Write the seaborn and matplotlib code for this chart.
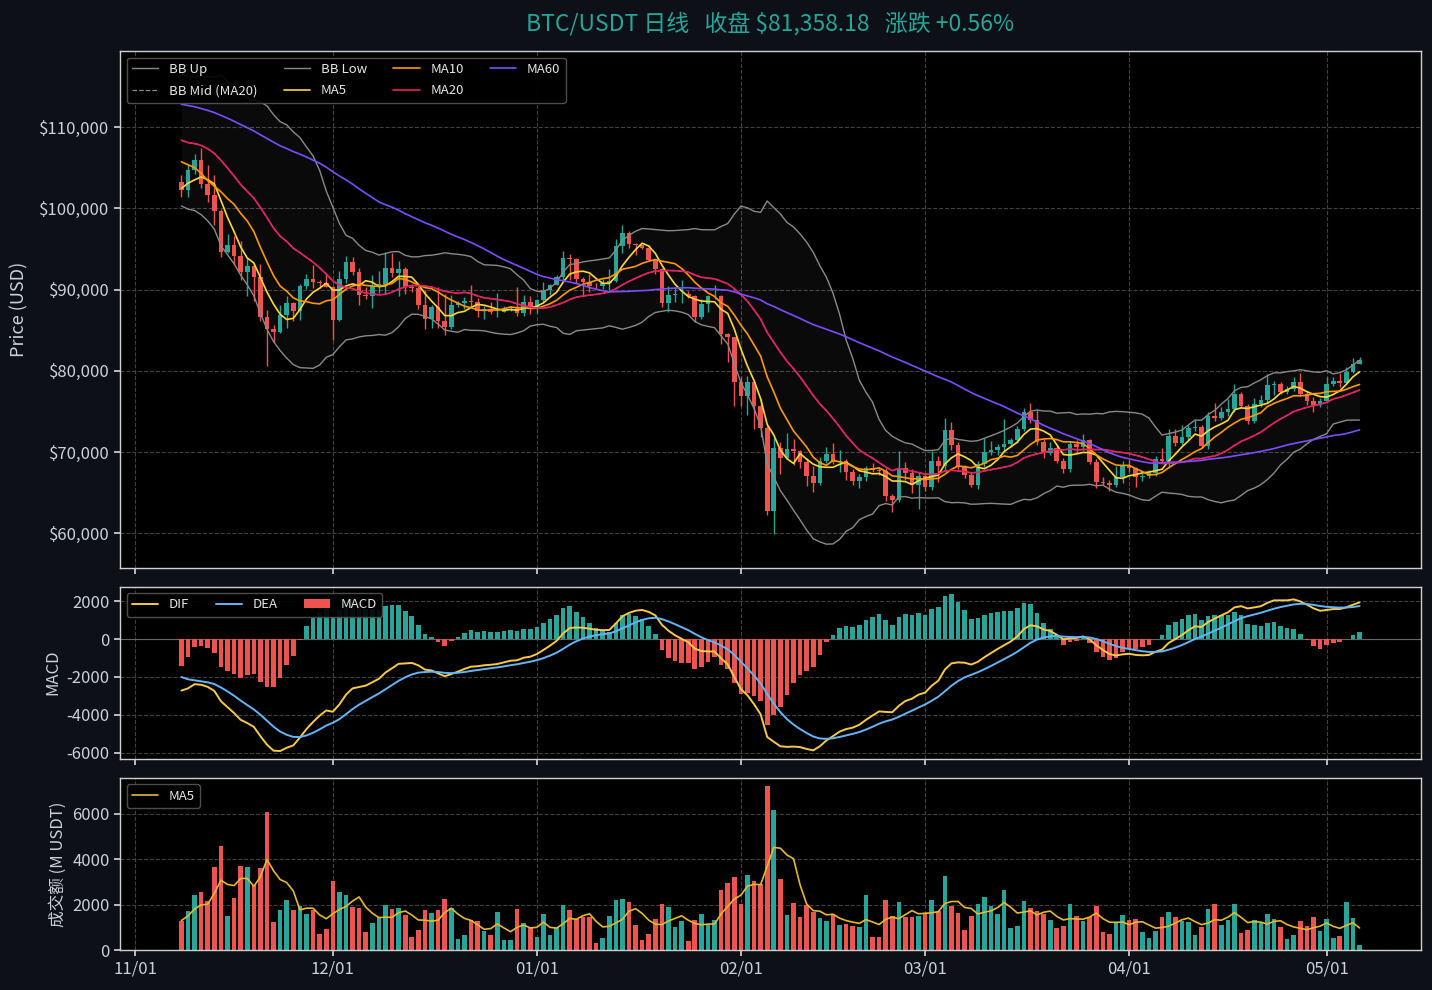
# BTC/USDT daily chart - candles, MA/BB, MACD and quote volume
import numpy as np
import pandas as pd
import matplotlib
matplotlib.use('Agg')
import matplotlib.pyplot as plt
import matplotlib.dates as mdates
from matplotlib.ticker import FuncFormatter, MultipleLocator
from matplotlib.lines import Line2D
from matplotlib.patches import Patch
import seaborn as sns

# ── Data ──────────────────────────────────────────
start_date = '2025-11-08'

close = [
    102310, 104720, 105990, 103060, 101650, 99690, 94600, 95550, 94180, 92220,
    92960, 91550, 86640, 85130, 84740, 86830, 88300, 87370, 90480, 91330,
    90910, 90850, 90390, 86320, 91280, 93450, 92130, 89390, 89270, 90400,
    90640, 92690, 92020, 92510, 90270, 90240, 88170, 86430, 87860, 86140,
    85460, 88100, 88340, 88620, 88490, 87390, 87610, 87230, 87300, 87800,
    87840, 87140, 88430, 87650, 88730, 89940, 90600, 91510, 93860, 93720,
    91290, 90990, 90500, 90400, 90800, 91130, 95380, 97030, 95590, 95510,
    95100, 93630, 92560, 88310, 89380, 89460, 89500, 89210, 86580, 88270,
    89190, 89270, 84570, 84140, 78620, 76970, 78690, 75640, 73020, 62700,
    70550, 69300, 70400, 70110, 68800, 67040, 66220, 68850, 69770, 68800,
    68850, 67500, 66430, 66950, 67990, 67780, 67670, 64640, 64130, 67990,
    67400, 65900, 67000, 65760, 68920, 68270, 72730, 70830, 68110, 67180,
    65960, 68520, 70020, 70220, 70630, 70950, 71440, 72860, 75000, 73950,
    71230, 69900, 70550, 68920, 67870, 70950, 70630, 71440, 68800, 66370,
    66250, 65960, 66900, 68400, 67990, 66900, 67060, 67380, 69200, 68950,
    72040, 71110, 71840, 72980, 73140, 70710, 74480, 74190, 74880, 75290,
    77200, 75700, 73790, 75900, 76380, 78250, 78410, 77440, 77720, 78650,
    77110, 76300, 75820, 76300, 78330, 78740, 78530, 79870, 80905, 81358.18,
]

high = [
    104080, 105500, 106670, 107470, 105330, 104090, 99880, 96850, 96640, 96040,
    93840, 93160, 93110, 87460, 85620, 88130, 89230, 88500, 90660, 91950,
    93090, 91170, 92000, 90420, 92300, 94150, 94080, 92690, 90290, 91760,
    92290, 94590, 94480, 93560, 92750, 90650, 90470, 89980, 88170, 90370,
    89470, 89400, 88570, 89080, 90590, 88940, 87960, 88440, 89540, 87990,
    88040, 90380, 89300, 89210, 88830, 90960, 90740, 91800, 94790, 94400,
    93900, 91500, 91900, 90800, 91260, 92520, 96240, 97920, 97200, 95780,
    95560, 95500, 93800, 92700, 90400, 90300, 91200, 89800, 89300, 88900,
    89400, 90600, 89300, 84700, 84200, 79300, 79400, 78700, 76500, 73200,
    71800, 71300, 72300, 71600, 70300, 69300, 68300, 69400, 70600, 71100,
    70300, 69100, 67900, 67300, 68300, 68700, 68200, 68100, 64900, 70200,
    68800, 67900, 67500, 67300, 70200, 69500, 74200, 73700, 71200, 68400,
    67500, 68900, 71800, 71400, 71000, 74100, 71800, 73200, 75400, 76100,
    75200, 71600, 71200, 70900, 69300, 71400, 71500, 72200, 71600, 69100,
    66900, 66600, 68300, 68900, 69000, 68200, 67400, 67800, 69500, 70500,
    72860, 72900, 73300, 73300, 73900, 73300, 75000, 76100, 75600, 76500,
    78400, 77400, 75900, 76700, 77000, 79600, 78800, 78600, 78100, 79200,
    79700, 77500, 76800, 76700, 79200, 79200, 79700, 80500, 81600, 81700,
]

low = [
    101450, 101450, 104290, 102480, 100810, 98000, 94010, 94560, 93010, 91220,
    89250, 88610, 86100, 80600, 83500, 84650, 85270, 86120, 86310, 90090,
    90180, 90160, 90340, 83820, 86180, 90880, 91760, 88060, 88910, 87720,
    89610, 89500, 91560, 89260, 89480, 89720, 87580, 85150, 85270, 85310,
    84450, 85110, 87830, 87600, 87900, 86600, 86380, 86970, 86660, 87260,
    87320, 86720, 86820, 87000, 87080, 88300, 89310, 90520, 91200, 91240,
    90800, 89280, 89660, 90110, 90090, 90000, 90900, 94530, 95070, 94250,
    94990, 93550, 91960, 87850, 87260, 88500, 88400, 88950, 86050, 86330,
    87200, 88800, 83300, 81100, 75700, 75700, 74600, 72900, 71900, 62300,
    59900, 67300, 69100, 68400, 68000, 65800, 65100, 65900, 68700, 68500,
    67600, 66600, 65900, 65600, 66500, 67500, 67200, 64000, 62600, 63900,
    66600, 65000, 63000, 65200, 65300, 66300, 67700, 70300, 67900, 66800,
    65700, 65500, 68200, 69600, 69600, 70000, 70600, 71100, 72600, 73600,
    70900, 69300, 69600, 68600, 67400, 67600, 70000, 70300, 68500, 65600,
    65900, 65200, 65700, 66200, 67500, 65700, 66500, 66800, 67000, 68600,
    68000, 70800, 70900, 71500, 72600, 70500, 70400, 73800, 73900, 74500,
    75000, 75400, 73500, 73600, 75600, 76100, 77000, 77100, 77200, 77500,
    76900, 75800, 75000, 75500, 76100, 78100, 78000, 78400, 79700, 80800,
]

# quote volume, million USDT
volume_m = [
    1299, 1708, 2409, 2540, 2146, 3679, 4599, 1489, 2278, 3723,
    3679, 2862, 3592, 6088, 1226, 1752, 2190, 1752, 1942, 1577,
    1752, 701, 920, 3022, 2540, 2409, 1883, 1840, 788, 1183,
    1445, 1971, 1796, 1840, 1533, 569, 876, 1752, 1621, 1752,
    2234, 1840, 482, 657, 1314, 1270, 832, 657, 1664, 438,
    438, 1796, 1183, 1007, 569, 1577, 657, 1007, 1971, 1752,
    1380, 1445, 1445, 307, 526, 1489, 2190, 2234, 2102, 1095,
    438, 701, 1358, 2015, 1883, 1007, 1270, 394, 1314, 1577,
    1139, 1314, 2628, 2935, 3197, 2015, 3285, 3022, 2891, 7227,
    6176, 3110, 1533, 2059, 1445, 1971, 1664, 1402, 1270, 1577,
    1095, 1139, 1051, 1007, 2409, 569, 569, 2190, 1489, 2102,
    1445, 1445, 1489, 1621, 2190, 1708, 3241, 1927, 1621, 876,
    1489, 2015, 2321, 1927, 1577, 2628, 964, 1051, 2146, 1840,
    1708, 1577, 1314, 964, 1051, 2015, 1489, 1270, 1445, 1927,
    788, 701, 1226, 1533, 1314, 1358, 788, 526, 832, 1445,
    1664, 1445, 1270, 1220, 650, 1007, 1796, 2015, 1095, 1314,
    2015, 745, 876, 1314, 1183, 1577, 1358, 1007, 482, 657,
    1270, 1051, 1445, 832, 1358, 526, 613, 2102, 1402, 219,
]

# closes before the window (Sep 9 - Nov 7), only used to warm up MA / BB / MACD
warmup_close = [
    111500, 113900, 115400, 116000, 115900, 115300, 115300, 116800, 116400, 117100,
    115600, 115700, 115200, 112600, 112000, 113300, 108900, 109600, 109600, 112100,
    114300, 114000, 118600, 120600, 122200, 122400, 123500, 124700, 121400, 123300,
    121700, 113200, 110600, 115200, 115300, 113000, 110800, 108200, 106400, 107200,
    108600, 110500, 108400, 107600, 110000, 111000, 111600, 114500, 114100, 112900,
    110000, 108300, 109600, 110100, 110600, 106500, 101500, 103900, 101300, 103300,
]

# ── Colours ───────────────────────────────────────
BG = '#0d1117'
UP = '#26a69a'
DOWN = '#ef5350'
TXT = '#c9d1d9'
C_BB = '#8a8a8a'
C_MA5 = '#fdd835'
C_MA10 = '#ff9800'
C_MA20 = '#e91e63'
C_MA60 = '#7c4dff'
C_DIF = '#f7c948'
C_DEA = '#64b5f6'
C_VMA = '#e6b82e'

sns.set_theme(style='darkgrid', rc={
    'figure.facecolor': BG,
    'axes.facecolor': 'black',
    'axes.edgecolor': '#d0d0d0',
    'axes.linewidth': 1.0,
    'axes.labelcolor': TXT,
    'text.color': TXT,
    'xtick.color': TXT,
    'ytick.color': TXT,
    'xtick.bottom': True,
    'ytick.left': True,
    'xtick.major.size': 4,
    'ytick.major.size': 4,
    'grid.color': '#404040',
    'grid.linestyle': '--',
    'grid.linewidth': 0.8,
    'patch.edgecolor': 'none',
    'patch.force_edgecolor': False,
})
plt.rcParams['font.family'] = ['Noto Sans CJK SC', 'DejaVu Sans']
plt.rcParams['axes.unicode_minus'] = False

# ── Indicators ────────────────────────────────────
n = len(close)
dates = pd.date_range(start_date, periods=n, freq='D')
full = pd.Series(warmup_close + close, dtype=float)

c = np.asarray(close, dtype=float)
o = full.shift(1).iloc[-n:].to_numpy()
h = np.asarray(high, dtype=float)
l = np.asarray(low, dtype=float)
vol = np.asarray(volume_m, dtype=float)


def last(s):
    return s.iloc[-n:].to_numpy()


ma5 = last(full.rolling(5).mean())
ma10 = last(full.rolling(10).mean())
ma20 = last(full.rolling(20).mean())
ma60 = last(full.rolling(60).mean())
std20 = last(full.rolling(20).std())
bb_up = ma20 + 2 * std20
bb_low = ma20 - 2 * std20

ema12 = full.ewm(span=12, adjust=False).mean()
ema26 = full.ewm(span=26, adjust=False).mean()
dif_s = ema12 - ema26
dea_s = dif_s.ewm(span=9, adjust=False).mean()
dif = last(dif_s)
dea = last(dea_s)
macd = 2 * (dif - dea)

vol_ma5 = pd.Series(vol).rolling(5, min_periods=1).mean().to_numpy()

is_up = c >= o
cand_col = np.where(is_up, UP, DOWN)

# ── Figure ────────────────────────────────────────
fig, (ax1, ax2, ax3) = plt.subplots(
    3, 1, figsize=(14.32, 9.9), dpi=100, sharex=True,
    gridspec_kw={'height_ratios': [3, 1, 1]})
fig.subplots_adjust(left=0.0838, right=0.9923, top=0.9485,
                    bottom=0.0404, hspace=0.066)

leg_kw = dict(fontsize=9.5, facecolor='black', edgecolor='#555555',
              labelcolor='#e6e6e6', framealpha=0.9, labelspacing=0.65)

# price panel
ax1.fill_between(dates, bb_low, bb_up, color='white', alpha=0.045, lw=0)
ax1.vlines(dates, l, h, color=cand_col, lw=1, zorder=2)
body = np.maximum(np.abs(c - o), 60)
ax1.bar(dates, body, bottom=np.minimum(o, c), width=0.7,
        color=cand_col, edgecolor='none', linewidth=0, zorder=2)

line_kw = dict(ax=ax1, estimator=None, zorder=3)
sns.lineplot(x=dates, y=bb_up, color=C_BB, lw=1, label='BB Up', **line_kw)
sns.lineplot(x=dates, y=ma20, color=C_BB, lw=0.9, linestyle='--',
             label='BB Mid (MA20)', **line_kw)
sns.lineplot(x=dates, y=bb_low, color=C_BB, lw=1, label='BB Low', **line_kw)
sns.lineplot(x=dates, y=ma5, color=C_MA5, lw=1.2, label='MA5', **line_kw)
sns.lineplot(x=dates, y=ma10, color=C_MA10, lw=1.2, label='MA10', **line_kw)
sns.lineplot(x=dates, y=ma20, color=C_MA20, lw=1.2, label='MA20', **line_kw)
sns.lineplot(x=dates, y=ma60, color=C_MA60, lw=1.2, label='MA60', **line_kw)

ax1.yaxis.set_major_locator(MultipleLocator(10000))
ax1.yaxis.set_major_formatter(FuncFormatter(lambda v, p: f'\\${v:,.0f}'))
ax1.set_ylabel('Price (USD)', fontsize=13, labelpad=8)
ax1.legend(loc='upper left', ncol=4, **leg_kw)

chg = (close[-1] / close[-2] - 1) * 100
ax1.set_title(f'BTC/USDT 日线   收盘 \\${close[-1]:,.2f}   涨跌 {chg:+.2f}%',
              color=UP, fontsize=16.5, pad=15)

# MACD panel
ax2.axhline(0, color='#666666', lw=0.8, zorder=1)
ax2.bar(dates, macd, width=0.7, color=np.where(macd >= 0, UP, DOWN),
        edgecolor='none', linewidth=0, zorder=2)
sns.lineplot(x=dates, y=dif, ax=ax2, color=C_DIF, lw=1.4, estimator=None,
             legend=False, zorder=3)
sns.lineplot(x=dates, y=dea, ax=ax2, color=C_DEA, lw=1.4, estimator=None,
             legend=False, zorder=3)
ax2.yaxis.set_major_locator(MultipleLocator(2000))
ax2.set_ylabel('MACD', fontsize=12)
macd_handles = [Line2D([], [], color=C_DIF, lw=1.4),
                Line2D([], [], color=C_DEA, lw=1.4),
                Patch(facecolor=DOWN, edgecolor='none')]
ax2.legend(macd_handles, ['DIF', 'DEA', 'MACD'], loc='upper left', ncol=3,
           **leg_kw)

# volume panel
ax3.bar(dates, vol, width=0.7, color=cand_col, edgecolor='none',
        linewidth=0, zorder=2)
sns.lineplot(x=dates, y=vol_ma5, ax=ax3, color=C_VMA, lw=1.2,
             estimator=None, label='MA5', zorder=3)
ax3.yaxis.set_major_locator(MultipleLocator(2000))
ax3.set_ylabel('成交额 (M USDT)', fontsize=12)
ax3.legend(loc='upper left', **leg_kw)

ax3.xaxis.set_major_locator(mdates.MonthLocator())
ax3.xaxis.set_major_formatter(mdates.DateFormatter('%m/%d'))

for ax in (ax1, ax2, ax3):
    ax.grid(True, which='major', color='#404040', linestyle='--', lw=0.8)
    ax.tick_params(labelsize=12, colors=TXT)
    ax.set_xlabel('')
    for sp in ax.spines.values():
        sp.set_color('#d0d0d0')
        sp.set_linewidth(1.0)

fig.savefig('out.png', dpi=100, facecolor=fig.get_facecolor())
